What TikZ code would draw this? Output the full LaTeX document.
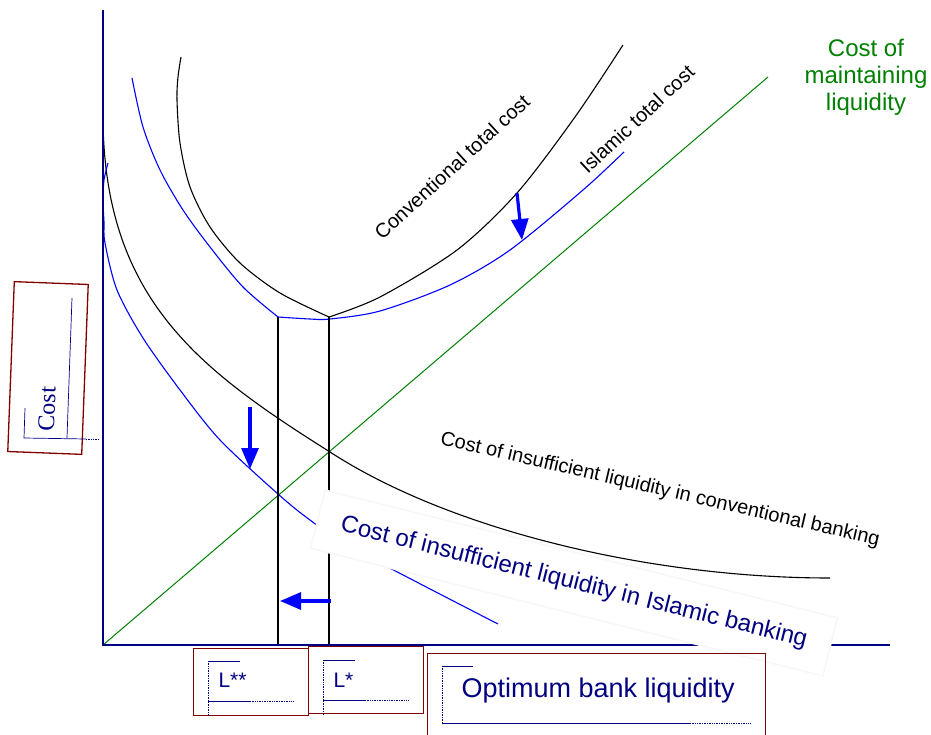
\documentclass[tikz,border=0pt]{standalone}
\usepackage{fontspec}
\setmainfont{Liberation Sans}
\newfontfamily\costfont{Liberation Serif}
\usetikzlibrary{arrows.meta}
\definecolor{ax}{RGB}{0,0,128}
\definecolor{bc}{RGB}{0,0,255}
\definecolor{gc}{RGB}{0,128,0}
\definecolor{fr}{RGB}{128,0,0}
\tikzset{crv/.style={line width=1.1pt},bcrv/.style={crv,draw=bc},
 movearr/.style={draw=bc,line width=3.2pt,-{Triangle[length=21pt,width=17pt]}},
 lbl/.style={font=\fontsize{20}{23}\selectfont},
 tbox/.style={draw=fr,line width=1.3pt,inner sep=0pt},
 guide/.style={draw=ax,line width=.7pt},gdot/.style={guide,densely dotted}}

\begin{document}
\begin{tikzpicture}[x=1pt,y=-1pt]
\clip (0,0) rectangle (931,735);
\coordinate (O) at (103,645);\coordinate (ytop) at (103,10);\coordinate (xend) at (890,645);
\coordinate (gend) at (768,77);
\draw[gc,line width=1pt] (O)--(gend);
% total cost curves
\draw[crv] plot[smooth] coordinates {(181,57) (178,77) (177,100) (180,143) (190,187) (210,227) (240,263) (280,293) (329,317)};
\draw[crv] plot[smooth] coordinates {(329,317) (380,297) (457,250) (517,193) (575,117) (623,45)};
\draw[bcrv] plot[smooth] coordinates {(132,78) (143,127) (160,170) (183,210) (210,247) (243,287) (278,317)};
\draw[bcrv] plot[smooth] coordinates {(278,317) (310,319) (330,319) (380,311) (450,285) (510,250) (583,190) (624,152)};
% insufficient liquidity curves
\draw[crv] (103,120) .. controls (105,300) and (200,370) .. (330,452) .. controls (450,530) and (650,578) .. (830,578);
\draw[bcrv] plot[smooth] coordinates {(108,163) (104,180) (103,200) (104,222) (105,243) (117,290) (143,338) (180,390) (220,440) (278,494) (310,520) (352,548) (498,624)};
% optimum levels
\coordinate (Lsst) at (278,317);\coordinate (Lssb) at (278,645);
\coordinate (Lst) at (329,317);\coordinate (Lsb) at (329,645);
\draw[crv] (Lsst)--(Lssb);\draw[crv] (Lst)--(Lsb);
\draw[ax,line width=1.2pt] (ytop)--(O)--(xend);
% shifts
\coordinate (a1) at (517,193);\coordinate (b1) at (522,240);
\coordinate (a2) at (250,407);\coordinate (b2) at (250,469);
\coordinate (a3) at (331,601);\coordinate (b3) at (280,601);
\draw[movearr] (a1)--(b1);\draw[movearr] (a2)--(b2);\draw[movearr] (a3)--(b3);
% labels
\node[lbl,rotate=42.6] (ctc) at (452,167) {Conventional total cost};
\node[lbl,rotate=43] (itc) at (637,119) {Islamic total cost};
\node[lbl,rotate=-13] (cic) at (660,490) {Cost of insufficient liquidity in conventional banking};
\node[rotate=-14,fill=white,draw=black!3,line width=1.5pt,minimum width=528pt,minimum height=60pt,
 text=ax,font=\fontsize{24}{28}\selectfont] (cii) at (574,583) {Cost of insufficient liquidity in Islamic banking};
\node[text=gc,align=center,font=\fontsize{24}{27}\selectfont] (cml) at (866,77) {Cost of\\maintaining\\liquidity};
% axis titles
\node[tbox,rotate=-2.2,minimum width=74pt,minimum height=170pt] (costbox) at (48,368) {};
\node[rotate=87.8,text=ax,font=\costfont\fontsize{24}{28}\selectfont] (cost) at (47,409) {Cost};
\draw[guide] (72,298)--(67,438);\draw[guide] (25,408)--(24,438)--(86,439);\draw[gdot] (86,439)--(99,439);
\node[tbox,anchor=north west,minimum width=115pt,minimum height=67pt] (lssbox) at (193,648) {};
\draw[guide] (240,661)--(208,661);\draw[gdot] (208,661)--(208,717);\draw[guide] (208,701)--(250,701);\draw[gdot] (250,701)--(293,701);
\node[anchor=base west,text=ax,font=\fontsize{21}{24}\selectfont] (lss) at (215,687) {L**};
\node[tbox,anchor=north west,minimum width=115pt,minimum height=67pt] (lsbox) at (308,646) {};
\draw[guide] (355,660)--(323,660);\draw[gdot] (323,660)--(323,716);\draw[guide] (323,700)--(365,700);\draw[gdot] (365,700)--(408,700);
\node[anchor=base west,text=ax,font=\fontsize{21}{24}\selectfont] (ls) at (330,687) {L*};
\node[tbox,anchor=north west,minimum width=338pt,minimum height=95pt] (obox) at (427,653) {};
\draw[guide] (473,666)--(442,666);\draw[gdot] (442,666)--(442,723);\draw[guide] (442,723)--(690,723);\draw[gdot] (690,723)--(751,723);
\node[anchor=base west,text=ax,font=\fontsize{27}{30}\selectfont] (obl) at (458,697) {Optimum bank liquidity};
\end{tikzpicture}
\end{document}
